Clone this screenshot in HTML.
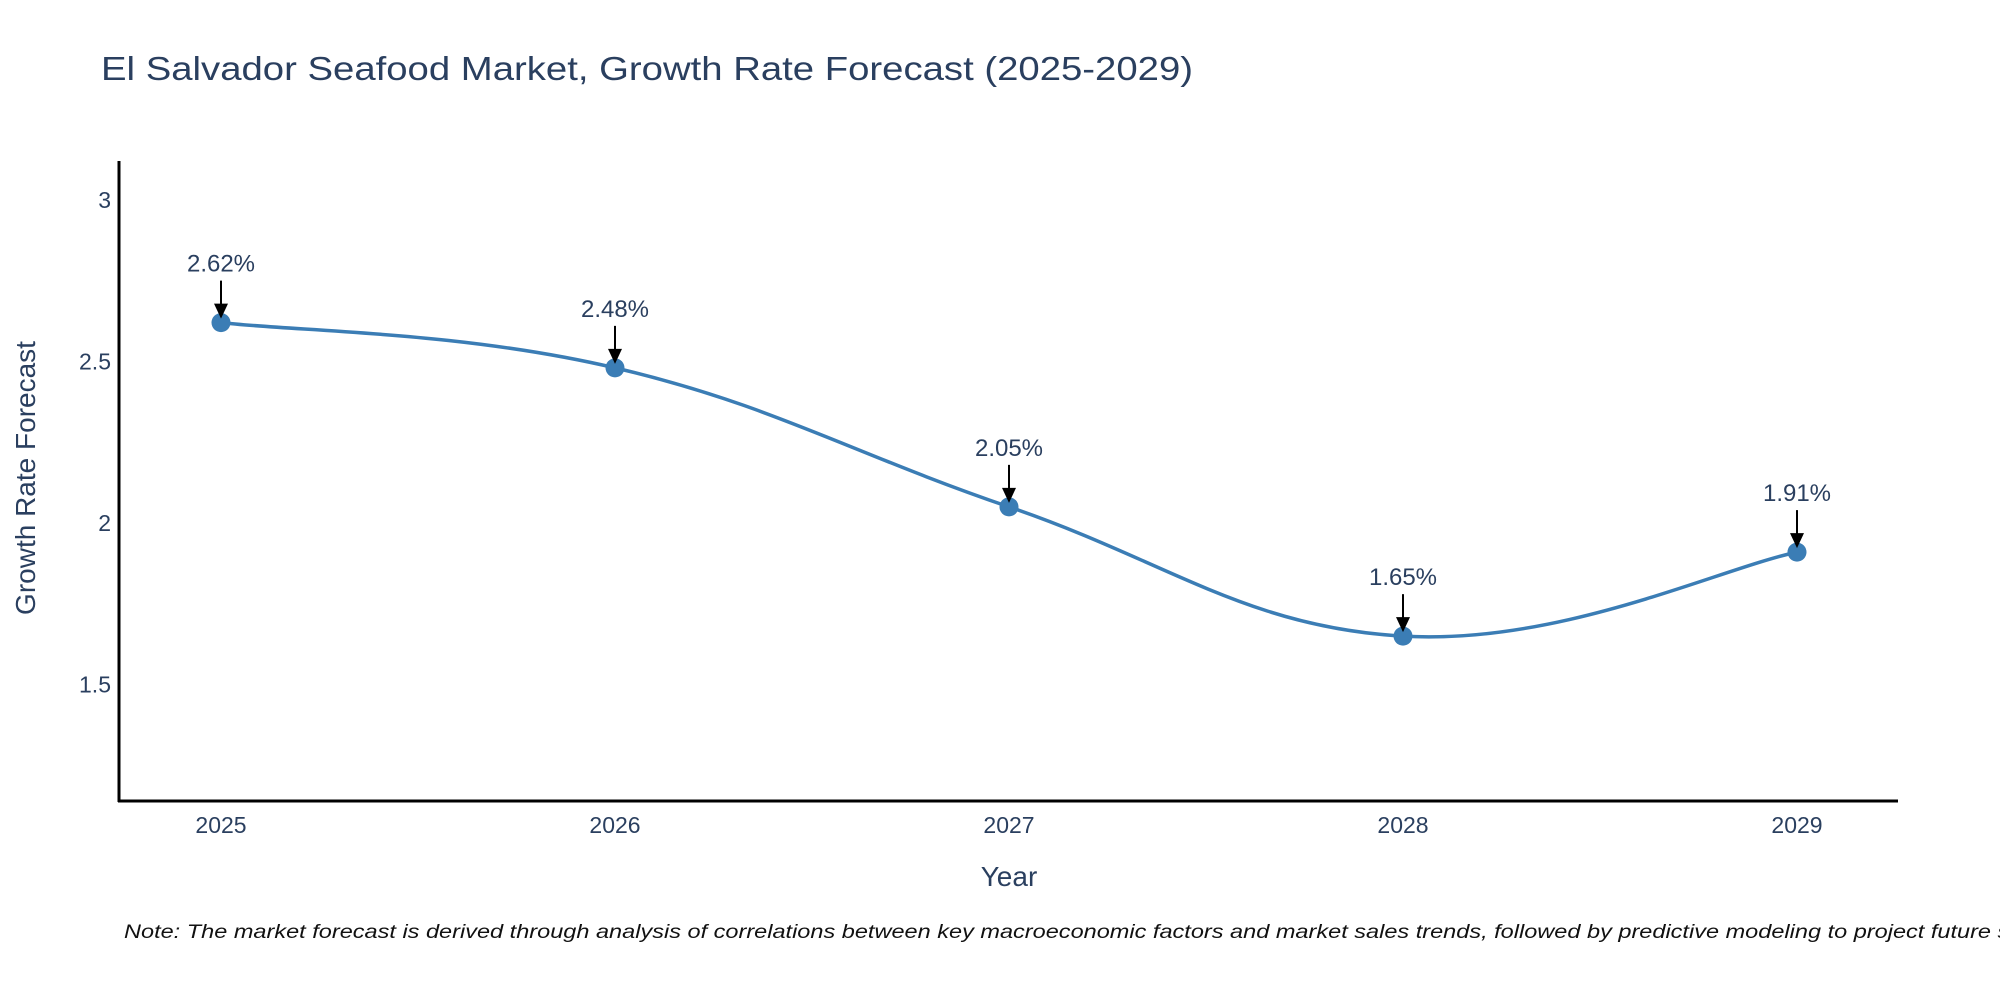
<!DOCTYPE html>
<html><head><meta charset="utf-8"><style>
html,body{margin:0;padding:0;background:#fff;width:2000px;height:1000px;overflow:hidden}
svg{display:block}
text{font-family:"Liberation Sans","DejaVu Sans",sans-serif;fill:#2a3f5f}
</style></head><body>
<svg id="chart" width="2000" height="1000" viewBox="0 0 2000 1000" xmlns="http://www.w3.org/2000/svg">
<text x="101" y="80" font-size="33" textLength="1092" lengthAdjust="spacingAndGlyphs">El Salvador Seafood Market, Growth Rate Forecast (2025-2029)</text>
<g id="plot"></g>
<text transform="translate(35,478) rotate(-90)" text-anchor="middle" font-size="28">Growth Rate Forecast</text>
<text x="1009" y="886" text-anchor="middle" font-size="28">Year</text>
<text x="124" y="938" font-size="19" font-style="italic" fill="#000" style="fill:#111" textLength="1935" lengthAdjust="spacingAndGlyphs">Note: The market forecast is derived through analysis of correlations between key macroeconomic factors and market sales trends, followed by predictive modeling to project future sales.</text>
</svg>
<script>
const years = ["2025","2026","2027","2028","2029"];
const growth = [2.62, 2.48, 2.05, 1.65, 1.91];
const labels = ["2.62%","2.48%","2.05%","1.65%","1.91%"];
const yTicks = [1.5, 2, 2.5, 3];
const yTickLabels = ["1.5","2","2.5","3"];

const NS = "http://www.w3.org/2000/svg";
const g = document.getElementById("plot");
const X0 = 119, X1 = 1898, Y0 = 161, Y1 = 801;
const yMin = 1.14, yMax = 3.12;
const xFirst = 221, xStep = 394;
function xs(i){ return xFirst + i * xStep; }
function ys(v){ return Y1 - (v - yMin) / (yMax - yMin) * (Y1 - Y0); }
function mk(tag, attrs){ const e = document.createElementNS(NS, tag); for (const k in attrs) e.setAttribute(k, attrs[k]); g.appendChild(e); return e; }

// axes
let ax = mk("line", {x1:X0, y1:Y0, x2:X0, y2:Y1+1, stroke:"#000", "stroke-width":3});


ax = mk("line", {x1:X0-1, y1:Y1, x2:X1, y2:Y1, stroke:"#000", "stroke-width":3});



yTicks.forEach((v, i) => {
  const t = mk("text", {x:X0-8, y:ys(v)+8, "text-anchor":"end", "font-size":23});
  t.textContent = yTickLabels[i];
  
  
});
years.forEach((y, i) => {
  const t = mk("text", {x:xs(i), y:833, "text-anchor":"middle", "font-size":23});
  t.textContent = y;
  
  
});

// spline path (Catmull-Rom)
const pts = growth.map((v, i) => [xs(i), ys(v)]);
let d = "M" + pts[0][0] + "," + pts[0][1];
const s = 0.2;
for (let i = 0; i < pts.length - 1; i++) {
  const p0 = pts[Math.max(0, i-1)], p1 = pts[i], p2 = pts[i+1], p3 = pts[Math.min(pts.length-1, i+2)];
  const c1 = [p1[0] + (p2[0]-p0[0])*s, p1[1] + (p2[1]-p0[1])*s];
  const c2 = [p2[0] - (p3[0]-p1[0])*s, p2[1] - (p3[1]-p1[1])*s];
  d += " C" + c1 + " " + c2 + " " + p2;
}
const line = mk("path", {d:d, fill:"none", stroke:"#3b7db5", "stroke-width":3.5});



pts.forEach((p, i) => {
  const c = mk("circle", {cx:p[0], cy:p[1], r:9.5, fill:"#3b7db5"});
  
  
  const l = mk("line", {x1:p[0], y1:p[1]-42, x2:p[0], y2:p[1]-16, stroke:"#000", "stroke-width":2});
  
  
  const h = mk("polygon", {points:(p[0]-7)+","+(p[1]-19)+" "+(p[0]+7)+","+(p[1]-19)+" "+p[0]+","+(p[1]-4), fill:"#000"});
  
  
  const t = mk("text", {x:p[0], y:p[1]-51, "text-anchor":"middle", "font-size":24});
  t.textContent = labels[i];
  
  
});
</script>
</body></html>
